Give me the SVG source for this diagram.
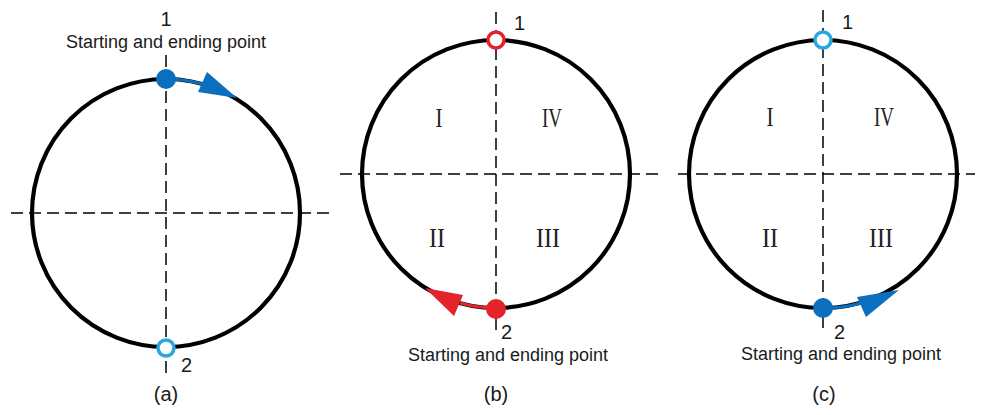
<svg xmlns="http://www.w3.org/2000/svg" width="990" height="415" viewBox="0 0 990 415">
<style>
.bg{fill:#fff}
.circ{fill:none;stroke:#000;stroke-width:4.2}
.dash{fill:none;stroke:#000;stroke-width:1.5;stroke-dasharray:12 6}
.lbl{font-family:"Liberation Sans",Arial,sans-serif;font-size:18px;fill:#1a1a1a}
.dig{font-family:"Liberation Sans",Arial,sans-serif;font-size:20px;fill:#1a1a1a}
.num{font-family:"Liberation Sans",Arial,sans-serif;font-size:20px;fill:#1a1a1a}
.rom{font-family:"Liberation Serif","Times New Roman",serif;font-size:27px;fill:#222}
.open-red{fill:#fff;stroke:#E5232A;stroke-width:3.5}
.open-blue{fill:#fff;stroke:#2AA7E0;stroke-width:3.5}
.dot-blue{fill:#0A6FBF}
.dot-red{fill:#E5232A}
.arc-blue{fill:none;stroke:#0A6FBF;stroke-width:3}
.arc-red{fill:none;stroke:#E5232A;stroke-width:3}
</style>
<rect class="bg" width="990" height="415"/>
<g id="connectors">
<path class="dash" d="M166 55V378"/>
<path class="dash" d="M11 213H330"/>
<path class="dash" d="M496 12V330"/>
<path class="dash" d="M340 174H660"/>
<path class="dash" d="M823 10V330"/>
<path class="dash" d="M678 174H975"/>
</g>
<g id="circle-a">
<circle class="circ" cx="166" cy="213" r="134"/>
<path class="arc-blue" d="M166 79A134 134 0 0 1 203 84.2"/>
<polygon class="dot-blue" points="237,98 207,72 198,92"/>
<circle class="dot-blue" cx="166" cy="79" r="10"/>
<circle class="open-blue" cx="166" cy="348" r="8"/>
<text class="dig" x="166" y="26" text-anchor="middle">1</text>
<text class="lbl" x="166" y="48" text-anchor="middle">Starting and ending point</text>
<text class="dig" x="181" y="372">2</text>
<text class="num" x="166" y="401" text-anchor="middle">(a)</text>
</g>
<g id="circle-b">
<circle class="circ" cx="496" cy="174" r="134"/>
<path class="arc-red" d="M496 308A134 134 0 0 1 460 303"/>
<polygon class="dot-red" points="425,288 463,295 454,316"/>
<circle class="dot-red" cx="496" cy="309" r="10"/>
<circle class="open-red" cx="496" cy="40" r="8"/>
<text class="dig" x="514" y="30">1</text>
<text class="dig" x="501" y="339">2</text>
<text class="lbl" x="508" y="361" text-anchor="middle">Starting and ending point</text>
<text class="num" x="496" y="401" text-anchor="middle">(b)</text>
<text class="rom" x="439" y="127" text-anchor="middle" textLength="7" lengthAdjust="spacingAndGlyphs">I</text>
<text class="rom" x="552" y="127" text-anchor="middle" textLength="20" lengthAdjust="spacingAndGlyphs">IV</text>
<text class="rom" x="437" y="247" text-anchor="middle" textLength="16" lengthAdjust="spacingAndGlyphs">II</text>
<text class="rom" x="548" y="247" text-anchor="middle" textLength="24" lengthAdjust="spacingAndGlyphs">III</text>
</g>
<g id="circle-c">
<circle class="circ" cx="823" cy="174" r="134"/>
<path class="arc-blue" d="M823 308A134 134 0 0 0 861 303"/>
<polygon class="dot-blue" points="899,290 857,297 866,317"/>
<circle class="dot-blue" cx="823" cy="308" r="10"/>
<circle class="open-blue" cx="823" cy="40" r="8"/>
<text class="dig" x="842" y="29">1</text>
<text class="dig" x="834" y="339">2</text>
<text class="lbl" x="841" y="360" text-anchor="middle">Starting and ending point</text>
<text class="num" x="824" y="401" text-anchor="middle">(c)</text>
<text class="rom" x="770" y="126" text-anchor="middle" textLength="7" lengthAdjust="spacingAndGlyphs">I</text>
<text class="rom" x="884" y="126" text-anchor="middle" textLength="20" lengthAdjust="spacingAndGlyphs">IV</text>
<text class="rom" x="770" y="247" text-anchor="middle" textLength="16" lengthAdjust="spacingAndGlyphs">II</text>
<text class="rom" x="881" y="247" text-anchor="middle" textLength="24" lengthAdjust="spacingAndGlyphs">III</text>
</g>
</svg>
